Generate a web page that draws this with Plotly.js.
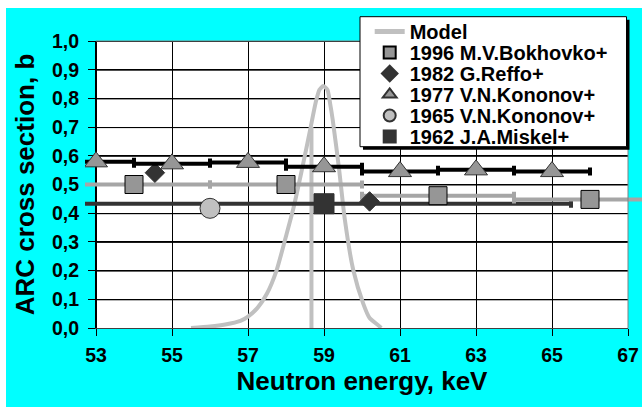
<!DOCTYPE html>
<html>
<head>
<meta charset="utf-8">
<script src="https://cdn.plot.ly/plotly-3.0.1.min.js"></script>
<style>
html,body{margin:0;padding:0;background:#ffffff;}
#chart{position:absolute;left:6px;top:8px;width:636px;height:399px;}
</style>
</head>
<body>
<div id="chart"></div>
<script>
// ---- data ----
var modelX = [55.5,56.0,56.4,56.8,57.0,57.25,57.5,57.75,58.0,58.2,58.4,58.55,58.65,58.78,58.88,58.98,59.09,59.16,59.23,59.4,59.55,59.77,60.03,60.2,60.47,60.5];
var modelY = [0,0.005,0.012,0.025,0.04,0.07,0.12,0.2,0.32,0.42,0.54,0.635,0.7,0.785,0.83,0.843,0.83,0.783,0.725,0.55,0.376,0.202,0.086,0.035,0.005,0];
var modelDropX = [58.67,58.67];
var modelDropY = [0,0.7];

var bokX = [54,58,62,66];
var bokY = [0.50,0.50,0.461,0.448];
var bokErr = [2,2,2,2];

var refX = [54.55,60.2];
var refY = [0.541,0.441];

var kon77X = [53,55,57,59,61,63,65];
var kon77Y = [0.579,0.572,0.577,0.562,0.545,0.551,0.545];
var kon77Err = [1,1,1,1,1,1,1];

var kon65X = [56];
var kon65Y = [0.417];

var misX = [59];
var misY = [0.433];
var misErr = [6.5];

var names = ['Model','1996 M.V.Bokhovko+','1982 G.Reffo+','1977 V.N.Kononov+','1965 V.N.Kononov+','1962 J.A.Miskel+'];
var xTickVals = [53,55,57,59,61,63,65,67];
var yTickVals = [0,0.1,0.2,0.3,0.4,0.5,0.6,0.7,0.8,0.9,1.0];
var xRange = [53,67];
var yRange = [0,1];

// ---- geometry (page pixels) ----
var DIV_W = 636, DIV_H = 399, OFF_X = 6, OFF_Y = 8;
var PAPER_L = 85, PAPER_R = 642;
var PLOT_L = 96, PLOT_R = 628, PLOT_T = 41, PLOT_B = 328;
var paperW = PAPER_R - PAPER_L, plotH = PLOT_B - PLOT_T;
function px(x){ return (x - PAPER_L) / paperW; }
function py(y){ return (PLOT_B - y) / plotH; }
var kPerPx = (xRange[1] - xRange[0]) / (PLOT_R - PLOT_L);
var vPerPx = (yRange[1] - yRange[0]) / plotH;
var x2range = [xRange[0] - (PLOT_L - PAPER_L) * kPerPx, xRange[1] + (PAPER_R - PLOT_R) * kPerPx];

var FONT = 'Liberation Sans, Arial, sans-serif';

var traces = [];
function legendFor(i){ return i === 0 ? 'legend' : 'legend' + (i + 1); }
function base(i){ return {xaxis:'x2', yaxis:'y2', legend: legendFor(i), name: names[i], hoverinfo:'skip'}; }

// Model (main axes, beneath the measurements)
traces.push({x:modelX, y:modelY, xaxis:'x', yaxis:'y', legend:'legend', name:names[0], mode:'lines', hoverinfo:'skip',
  line:{color:'#C0C0C0', width:4, shape:'spline', smoothing:0.6}});
traces.push({x:modelDropX, y:modelDropY, xaxis:'x', yaxis:'y', mode:'lines', showlegend:false, hoverinfo:'skip',
  line:{color:'#C0C0C0', width:4}});
// 1962 Miskel
traces.push(Object.assign(base(5), {x:misX, y:misY, mode:'markers',
  marker:{symbol:'square', size:20, color:'#333333', line:{color:'#333333', width:1}},
  error_x:{type:'data', array:misErr, color:'#333333', thickness:4, width:4}}));
// 1965 Kononov
traces.push(Object.assign(base(4), {x:kon65X, y:kon65Y, mode:'markers',
  marker:{symbol:'circle', size:20, color:'#C0C0C0', line:{color:'#333333', width:1}}}));
// 1996 Bokhovko
traces.push(Object.assign(base(1), {x:bokX, y:bokY, mode:'markers',
  marker:{symbol:'square', size:18, color:'#969696', line:{color:'#000000', width:1}},
  error_x:{type:'data', array:bokErr, color:'#A6A6A6', thickness:4, width:4}}));
// 1982 Reffo
traces.push(Object.assign(base(2), {x:refX, y:refY, mode:'markers',
  marker:{symbol:'diamond', size:15, color:'#333333', line:{color:'#333333', width:1}}}));
// 1977 Kononov
traces.push(Object.assign(base(3), {x:kon77X, y:kon77Y, mode:'markers',
  marker:{symbol:'triangle-up', size:20, color:'#969696', line:{color:'#333333', width:1}},
  error_x:{type:'data', array:kon77Err, color:'#000000', thickness:4, width:4}}));

// plot background and grid (grid built from the tick arrays)
var shapes = [
  {type:'rect', xref:'x', yref:'y', x0:xRange[0], x1:xRange[1], y0:yRange[0], y1:yRange[1], fillcolor:'#FFFFFF', line:{width:0}, layer:'below'}
];
xTickVals.forEach(function(v){
  shapes.push({type:'line', xref:'x', yref:'y', x0:v + 0.5 * kPerPx, x1:v + 0.5 * kPerPx, y0:yRange[0], y1:yRange[1], line:{color:'#000000', width:1}, layer:'below'});
});
yTickVals.forEach(function(v){
  shapes.push({type:'line', xref:'x', yref:'y', x0:xRange[0], x1:xRange[1], y0:v - 0.5 * vPerPx, y1:v - 0.5 * vPerPx, line:{color:'#000000', width:1}, layer:'below'});
});
shapes.push(
  {type:'line', xref:'paper', yref:'paper', x0:px(PLOT_L), x1:px(PLOT_R), y0:1, y1:1, line:{color:'#808080', width:1}, layer:'above'},
  {type:'line', xref:'paper', yref:'paper', x0:px(PLOT_R), x1:px(PLOT_R), y0:0, y1:1, line:{color:'#808080', width:1}, layer:'above'},
  {type:'rect', xref:'paper', yref:'paper', x0:px(363), x1:px(629.5), y0:py(149.7), y1:py(19.7), fillcolor:'#000000', line:{width:0}, layer:'above'},
  {type:'rect', xref:'paper', yref:'paper', x0:px(360), x1:px(626.5), y0:py(146.7), y1:py(16.7), fillcolor:'#FFFFFF', line:{color:'#000000', width:1}, layer:'above'}
);

var layout = {
  width: DIV_W, height: DIV_H,
  margin: {l: PAPER_L - OFF_X, r: OFF_X + DIV_W - PAPER_R, t: PLOT_T - OFF_Y, b: OFF_Y + DIV_H - PLOT_B, pad: 0},
  paper_bgcolor: '#00FFFF',
  plot_bgcolor: 'rgba(0,0,0,0)',
  separators: ', ',
  font: {family: FONT, color: '#000000', size: 19.5, weight: 700},
  xaxis: {domain:[px(PLOT_L), px(PLOT_R)], range:xRange, tickvals:xTickVals, ticks:'outside', ticklen:7, tickwidth:1, tickcolor:'#000',
    showgrid:true, gridcolor:'#000', gridwidth:1, zeroline:false, showline:true, linecolor:'#404040', linewidth:1,
    ticklabelstandoff:3,
    tickfont:{family:FONT, size:19.5, weight:700, color:'#000'}, fixedrange:true, anchor:'y',
    title:{text:'Neutron energy, keV', standoff:6, font:{family:FONT, size:26, weight:700, color:'#000'}}},
  yaxis: {domain:[0,1], range:yRange, tickvals:yTickVals, tickformat:'.1f', ticks:'outside', ticklen:7, tickwidth:1, tickcolor:'#000',
    showgrid:true, gridcolor:'#000', gridwidth:1, zeroline:false, showline:true, linecolor:'#000', linewidth:1,
    ticklabelstandoff:5,
    tickfont:{family:FONT, size:19.5, weight:700, color:'#000'}, fixedrange:true, anchor:'x',
    title:{text:'ARC cross section, b', font:{family:FONT, size:26, weight:700, color:'#000'}}},
  xaxis2: {domain:[0,1], range:x2range, visible:false, fixedrange:true, anchor:'y2'},
  yaxis2: {domain:[0,1], range:yRange, visible:false, fixedrange:true, anchor:'x2'},
  showlegend: true,
  shapes: shapes
};
var rowY0 = 31.5, rowDY = 21;
for (var i = 0; i < 6; i++) {
  layout[legendFor(i)] = {x: px(369.7), xanchor:'left', y: py(rowY0 + rowDY * i), yanchor:'middle',
    bgcolor:'rgba(0,0,0,0)', borderwidth:0, itemsizing:'constant',
    font:{family:FONT, size:20, weight:700, color:'#000'}};
}

Plotly.newPlot('chart', traces, layout, {staticPlot:true, displayModeBar:false});
</script>
</body>
</html>
